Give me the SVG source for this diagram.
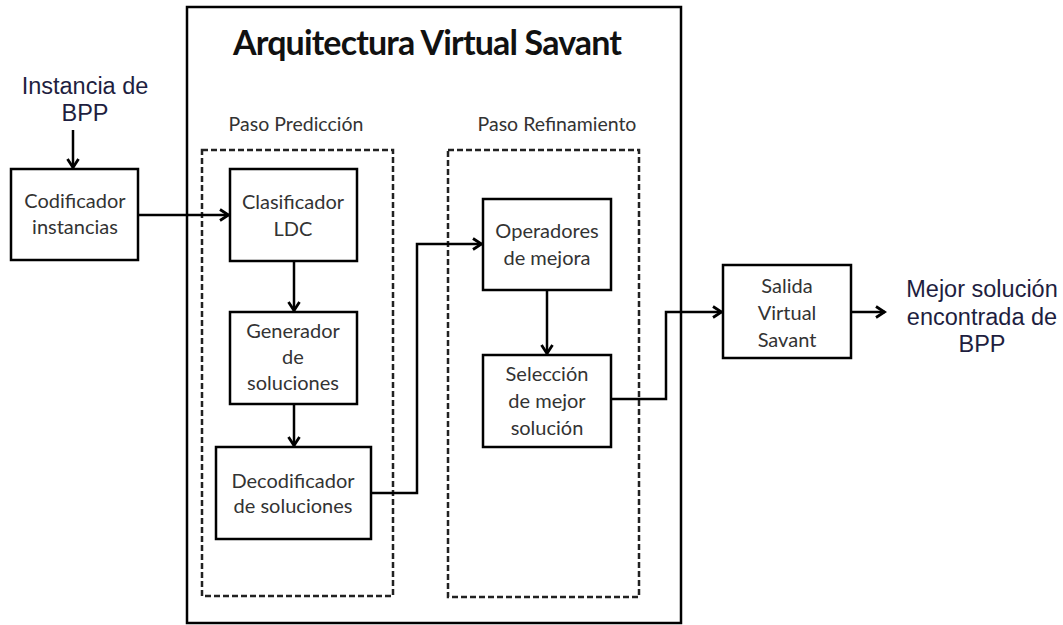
<svg xmlns="http://www.w3.org/2000/svg" width="1063" height="625" viewBox="0 0 1063 625">
<defs>
<style>
.box{fill:#fff;stroke:#000;stroke-width:2.5}
.dash{fill:none;stroke:#222;stroke-width:2.5;stroke-dasharray:6 3}
.lbl{font-family:Lato,"Open Sans",sans-serif;font-size:20px;fill:#333;text-anchor:middle}
.ext{font-family:"Liberation Sans",Arial,sans-serif;font-size:23.5px;fill:#1e1e40;text-anchor:middle}
.title{font-family:Lato,"Open Sans",sans-serif;font-size:34px;font-weight:bold;fill:#111}
.step{font-family:Lato,"Open Sans",sans-serif;font-size:19.5px;fill:#333}
.con{fill:none;stroke:#000;stroke-width:2.5}
</style>
<marker id="arr" viewBox="0 0 12 14" refX="10.5" refY="7" markerWidth="12" markerHeight="14" markerUnits="userSpaceOnUse" orient="auto">
<path d="M1.5,1.5 L10,7 L1.5,12.5" fill="none" stroke="#000" stroke-width="2.8"/>
</marker>
</defs>
<rect width="1063" height="625" fill="#fff"/>
<g id="arquitectura">
<rect x="187" y="7" width="494" height="616" fill="none" stroke="#000" stroke-width="2.5"/>
<text class="title" x="233" y="55" textLength="389">Arquitectura Virtual Savant</text>
</g>
<g id="paso-prediccion">
<rect class="dash" x="202" y="150" width="191" height="446"/>
<text class="step" x="296" y="131" text-anchor="middle">Paso Predicción</text>
</g>
<g id="paso-refinamiento">
<rect class="dash" x="448" y="150" width="191" height="447"/>
<text class="step" x="557" y="131" text-anchor="middle">Paso Refinamiento</text>
</g>
<g id="instancia">
<text class="ext" x="85" y="94">Instancia de</text>
<text class="ext" x="85" y="121">BPP</text>
</g>
<g id="mejor-solucion">
<text class="ext" x="982" y="297">Mejor solución</text>
<text class="ext" x="982" y="325">encontrada de</text>
<text class="ext" x="982" y="352">BPP</text>
</g>
<g id="codificador">
<rect class="box" x="11" y="169" width="127" height="91"/>
<text class="lbl" x="75" y="208">Codificador</text>
<text class="lbl" x="75" y="234">instancias</text>
</g>
<g id="clasificador">
<rect class="box" x="230" y="169" width="127" height="92"/>
<text class="lbl" x="293" y="209">Clasificador</text>
<text class="lbl" x="293" y="236">LDC</text>
</g>
<g id="generador">
<rect class="box" x="230" y="312" width="127" height="92"/>
<text class="lbl" x="293" y="338">Generador</text>
<text class="lbl" x="293" y="364">de</text>
<text class="lbl" x="293" y="390">soluciones</text>
</g>
<g id="decodificador">
<rect class="box" x="216" y="447" width="155" height="92"/>
<text class="lbl" x="293" y="488">Decodificador</text>
<text class="lbl" x="293" y="513">de soluciones</text>
</g>
<g id="operadores">
<rect class="box" x="483" y="199" width="128" height="91"/>
<text class="lbl" x="547" y="238">Operadores</text>
<text class="lbl" x="547" y="265">de mejora</text>
</g>
<g id="seleccion">
<rect class="box" x="483" y="355" width="128" height="92"/>
<text class="lbl" x="547" y="381">Selección</text>
<text class="lbl" x="547" y="408">de mejor</text>
<text class="lbl" x="547" y="435">solución</text>
</g>
<g id="salida">
<rect class="box" x="723" y="265" width="128" height="93"/>
<text class="lbl" x="787" y="293">Salida</text>
<text class="lbl" x="787" y="320">Virtual</text>
<text class="lbl" x="787" y="347">Savant</text>
</g>
<g id="connectors">
<line class="con" x1="73" y1="130" x2="73" y2="168" marker-end="url(#arr)"/>
<line class="con" x1="138" y1="215" x2="229" y2="215" marker-end="url(#arr)"/>
<line class="con" x1="294" y1="261" x2="294" y2="311" marker-end="url(#arr)"/>
<line class="con" x1="294" y1="404" x2="294" y2="446" marker-end="url(#arr)"/>
<polyline class="con" points="371,493 417,493 417,244 482,244" marker-end="url(#arr)"/>
<line class="con" x1="547" y1="290" x2="547" y2="354" marker-end="url(#arr)"/>
<polyline class="con" points="611,399 666,399 666,312 722,312" marker-end="url(#arr)"/>
<line class="con" x1="851" y1="312" x2="885" y2="312" marker-end="url(#arr)"/>
</g>
</svg>
